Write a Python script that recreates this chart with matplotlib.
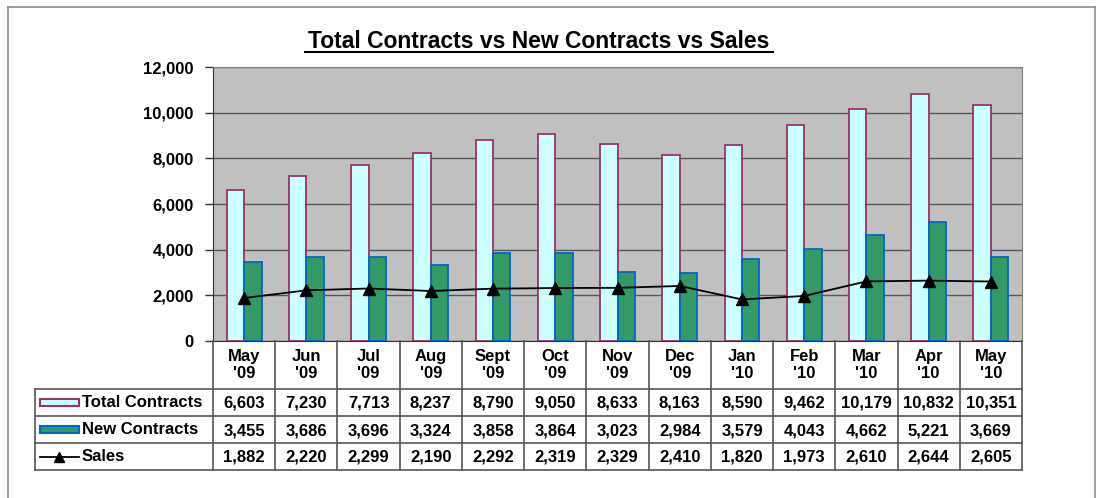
import matplotlib
matplotlib.use("Agg")
import matplotlib.pyplot as plt
from matplotlib.patches import Rectangle
from matplotlib.lines import Line2D

plt.rcParams['font.family'] = ['Liberation Sans', 'DejaVu Sans']

months = ["May\n'09", "Jun\n'09", "Jul\n'09", "Aug\n'09", "Sept\n'09", "Oct\n'09", "Nov\n'09",
          "Dec\n'09", "Jan\n'10", "Feb\n'10", "Mar\n'10", "Apr\n'10", "May\n'10"]
total_contracts = [6603, 7230, 7713, 8237, 8790, 9050, 8633, 8163, 8590, 9462, 10179, 10832, 10351]
new_contracts = [3455, 3686, 3696, 3324, 3858, 3864, 3023, 2984, 3579, 4043, 4662, 5221, 3669]
sales = [1882, 2220, 2299, 2190, 2292, 2319, 2329, 2410, 1820, 1973, 2610, 2644, 2605]
series_names = ["Total Contracts", "New Contracts", "Sales"]
yticks = [0, 2000, 4000, 6000, 8000, 10000, 12000]

W, H = 1097, 498
fig = plt.figure(figsize=(W / 100, H / 100), dpi=100)
fig.patch.set_facecolor('white')

def px_rect(x0, y0, x1, y1):
    return [x0 / W, 1 - y1 / H, (x1 - x0) / W, (y1 - y0) / H]

# outer border
fig.add_artist(Line2D([8 / W, 8 / W], [0, 1 - 7 / H], transform=fig.transFigure, color='#8c8c8c', lw=1.2))
fig.add_artist(Line2D([8 / W, 1095 / W], [1 - 7 / H, 1 - 7 / H], transform=fig.transFigure, color='#8c8c8c', lw=1.2))
fig.add_artist(Line2D([1095 / W, 1095 / W], [0, 1 - 7 / H], transform=fig.transFigure, color='#8c8c8c', lw=1.2))

PL, PR, PT, PB = 213, 1022, 67, 341
ax = fig.add_axes(px_rect(PL, PT, PR, PB))
ax.set_facecolor('#C0C0C0')
n = len(months)
x = list(range(n))
bw = 0.28
ax.bar([i - bw / 2 for i in x], total_contracts, width=bw, color='#CCFFFF', edgecolor='#993366', linewidth=1.3, zorder=3)
ax.bar([i + bw / 2 for i in x], new_contracts, width=bw, color='#339966', edgecolor='#0066CC', linewidth=1.3, zorder=3)
ax.plot(x, sales, color='black', lw=1.3, marker='^', markersize=8, zorder=4)
ax.set_xlim(-0.5, n - 0.5)
ax.set_ylim(0, 12000)
ax.set_yticks(yticks)
ax.set_yticklabels([f"{v:,}" for v in yticks], fontsize=12, fontweight='bold')
ax.tick_params(axis='y', length=6, width=1, color='#333333', pad=8)
ax.set_xticks([])
ax.yaxis.grid(True, color='#555555', lw=1, zorder=0)
ax.set_axisbelow(True)
for s in ['top', 'right']:
    ax.spines[s].set_color('#808080')
ax.spines['left'].set_color('#333333')
ax.spines['bottom'].set_color('#333333')

fig.text(539 / W, 1 - 42 / H, "Total Contracts vs New Contracts vs Sales", ha='center', va='center',
         fontsize=16.5, fontweight='bold')
# underline title
fig.add_artist(Line2D([305 / W, 773 / W], [1 - 52 / H, 1 - 52 / H], transform=fig.transFigure, color='black', lw=1.5))

# table
TB = 470
tax = fig.add_axes(px_rect(PL, PB, PR, TB))
tax.set_xlim(-0.5, n - 0.5)
tax.set_ylim(TB - PB, 0)
tax.axis('off')
colw = (PR - PL) / n
xleft = -0.5 - (PL - 35) / colw
rows_y = [48, 75, 102, 129]
lc = '#555555'
for yy in rows_y:
    tax.plot([xleft if yy != 0 else -0.5, n - 0.5], [yy, yy], color=lc, lw=1.2, clip_on=False)
tax.plot([xleft, xleft], [48, 129], color=lc, lw=1.2, clip_on=False)
for i in range(n + 1):
    tax.plot([i - 0.5, i - 0.5], [0, 129], color=lc, lw=1.2, clip_on=False)

for i, m in enumerate(months):
    tax.text(i, 24, m, ha='center', va='center', fontsize=12, fontweight='bold', linespacing=1.1)
    for r, vals in enumerate([total_contracts, new_contracts, sales]):
        tax.text(i, (rows_y[r] + rows_y[r + 1]) / 2 + 1, f"{vals[i]:,}", ha='center', va='center',
                 fontsize=12, fontweight='bold')

# legend keys in row headers
kx0 = xleft + 5 / colw
kx1 = xleft + 44 / colw
for r, name in enumerate(series_names):
    yc = (rows_y[r] + rows_y[r + 1]) / 2
    if r == 0:
        tax.add_patch(Rectangle((kx0, yc - 3.5), kx1 - kx0, 7, facecolor='#CCFFFF', edgecolor='#993366', lw=1.5, clip_on=False))
    elif r == 1:
        tax.add_patch(Rectangle((kx0, yc - 3.5), kx1 - kx0, 7, facecolor='#339966', edgecolor='#0066CC', lw=1.5, clip_on=False))
    else:
        tax.plot([kx0, kx1], [yc, yc], color='black', lw=1.3, clip_on=False)
        tax.plot([(kx0 + kx1) / 2], [yc], marker='^', color='black', markersize=7, clip_on=False)
    tax.text(kx1 + 3 / colw, yc, name, ha='left', va='center', fontsize=12, fontweight='bold')

fig.savefig("out.png", dpi=100)
